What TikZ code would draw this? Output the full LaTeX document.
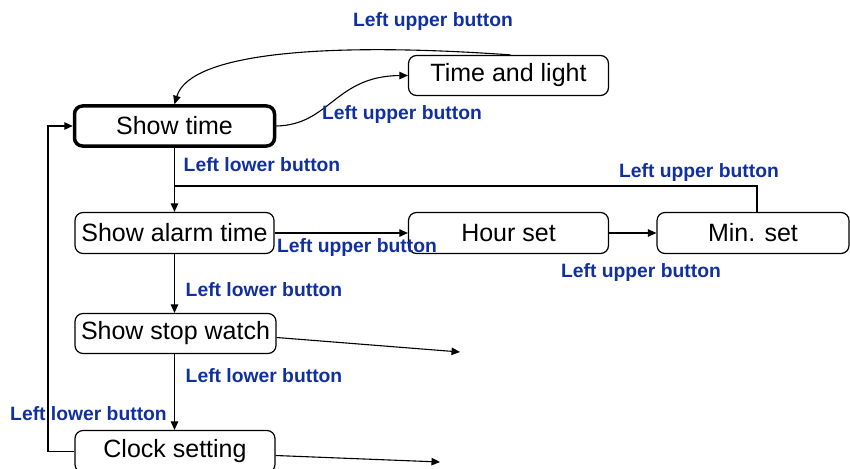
\documentclass[tikz,border=0pt]{standalone}
\usepackage{fontspec}
\setmainfont{Liberation Sans}
\usetikzlibrary{arrows.meta}
\definecolor{lblue}{RGB}{16,48,160}
\tikzset{
  state/.style={draw, line width=1.2pt, rounded corners=8pt, minimum width=200pt,
    minimum height=40pt, inner sep=0pt, font=\fontsize{25}{28}\selectfont},
  initial/.style={state, line width=3.5pt},
  lbl/.style={text=lblue, font=\fontsize{19.3}{22}\selectfont\bfseries, inner sep=0pt},
  conn/.style={line width=1.1pt, -{Triangle[length=8.5pt,width=7.5pt]}},
  wire/.style={line width=1.1pt}
}
\begin{document}
\begin{tikzpicture}[x=1pt,y=-1pt]
\useasboundingbox (0,0) rectangle (850,468);
% states
\node[initial] (st) at (174.5,126) {Show time};
\node[state] (tl) at (508.5,75.5) {Time and light};
\node[state, minimum width=199pt, minimum height=41pt] (sa) at (174.5,233) {Show alarm time};
\node[state, minimum height=41pt] (hs) at (508.5,233) {Hour set};
\node[state, minimum width=192pt, minimum height=41pt] (ms) at (753,233) {Min. set};
\node[state, minimum width=201pt] (sw) at (175.5,333.5) {Show stop watch};
\node[state, minimum height=42pt] (cs) at (175,451.5) {Clock setting};
% free ends and bends
\coordinate (sw-out) at (460,352);
\coordinate (cs-out) at (440,462);
\coordinate (j) at (174.5,186);
\coordinate (ms-top) at (757,186);
% connectors
\draw[conn] (st.east) .. controls (330,125) and (335,76) .. (tl.west);
\draw[conn] ([xshift=2pt]tl.north) .. controls (330,42) and (190,52) .. (st.north);
\draw[conn] (st.south) -- (sa.north);
\draw[wire] (ms.north -| ms-top) -- (ms-top) -- (j);
\draw[conn] (sa.east) -- (hs.west);
\draw[conn] (hs.east) -- (ms.west);
\draw[conn] (sa.south) -- ([xshift=-1pt]sw.north);
\draw[conn] ([yshift=-4pt]sw.east) -- (sw-out);
\draw[conn] ([xshift=-1pt]sw.south) -- ([xshift=-0.5pt]cs.north);
\draw[conn] ([yshift=-4pt]cs.east) -- (cs-out);
\draw[conn] (cs.west) -- (48,451.5) -- (48,126) -- (st.west);
% labels
\node[lbl] (l1) at (433,22) {Left upper button};
\node[lbl] (l2) at (402,115) {Left upper button};
\node[lbl] (l3) at (262,165) {Left lower button};
\node[lbl] (l4) at (699,173) {Left upper button};
\node[lbl] (l5) at (357,248) {Left upper button};
\node[lbl] (l6) at (641,273) {Left upper button};
\node[lbl] (l7) at (264,290) {Left lower button};
\node[lbl] (l8) at (264,376) {Left lower button};
\node[lbl] (l9) at (88.5,414) {Left lower button};
\end{tikzpicture}
\end{document}
